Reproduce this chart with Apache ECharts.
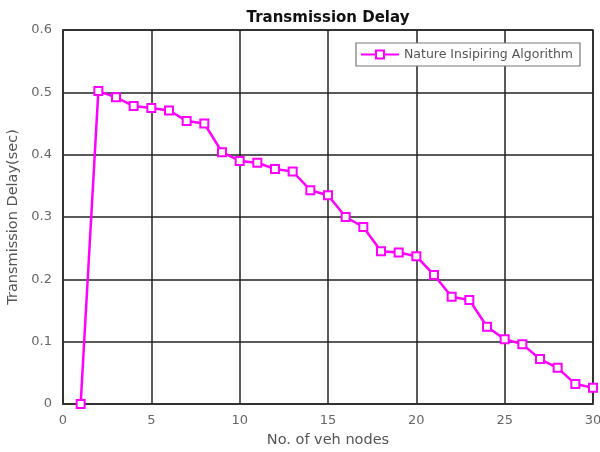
<!DOCTYPE html>
<html><head><meta charset="utf-8">
<script src="https://cdn.jsdelivr.net/npm/echarts@6/dist/echarts.min.js"></script>
<style>html,body{margin:0;padding:0;background:#fff}#c{width:600px;height:452px}</style>
</head><body><div id="c"></div>
<script>
const xNodes = [1,2,3,4,5,6,7,8,9,10,11,12,13,14,15,16,17,18,19,20,21,22,23,24,25,26,27,28,29,30];
const delay = [0,0.502,0.492,0.478,0.475,0.471,0.454,0.450,0.404,0.390,0.387,0.377,0.373,0.343,0.335,0.300,0.284,0.245,0.243,0.237,0.207,0.172,0.167,0.124,0.104,0.096,0.072,0.058,0.032,0.026];
const seriesName = 'Nature Insipiring Algorithm';
const F = 'DejaVu Sans';
const chart = echarts.init(document.getElementById('c'));
chart.setOption({
  animation:false,
  title:{text:'Transmission Delay',left:323,top:6,textAlign:'center',textStyle:{fontFamily:F,fontSize:15,fontWeight:'bold',color:'#111'}},
  legend:{data:[seriesName],right:20,top:43,orient:'horizontal',backgroundColor:'#fff',borderColor:'#777',borderWidth:1.2,padding:[5,7,5,4],itemWidth:38,itemHeight:10,itemGap:4,
    textStyle:{fontFamily:F,fontSize:12.5,color:'#555'}},
  grid:{left:63,right:7,top:30,bottom:48,show:true,borderColor:'#333',borderWidth:1.5,outerBoundsMode:'none',containLabel:false},
  xAxis:{type:'value',min:0,max:30,interval:5,name:'No. of veh nodes',nameLocation:'middle',nameGap:29,
    nameTextStyle:{fontFamily:F,fontSize:14.5,color:'#555'},
    axisLine:{show:true,lineStyle:{color:'#333',width:1.5}},axisTick:{show:false},
    axisLabel:{fontFamily:F,fontSize:13,color:'#666',margin:10},
    splitLine:{show:true,lineStyle:{color:'#222',width:1.5}}},
  yAxis:{type:'value',min:0,max:0.6,interval:0.1,name:'Transmission Delay(sec)',nameLocation:'middle',nameGap:40,
    nameTextStyle:{fontFamily:F,fontSize:14.5,color:'#555'},
    axisLine:{show:true,lineStyle:{color:'#333',width:1.5}},axisTick:{show:false},
    axisLabel:{fontFamily:F,fontSize:13,color:'#666',margin:11,formatter:v=>String(+v.toFixed(1))},
    splitLine:{show:true,lineStyle:{color:'#222',width:1.5}}},
  series:[{name:seriesName,type:'line',data:xNodes.map((x,i)=>[x,delay[i]]),
    symbol:'rect',symbolSize:8,showSymbol:true,
    lineStyle:{color:'#ff00ff',width:2.5},
    itemStyle:{color:'#fff',borderColor:'#ff00ff',borderWidth:2}}]
});
</script></body></html>
